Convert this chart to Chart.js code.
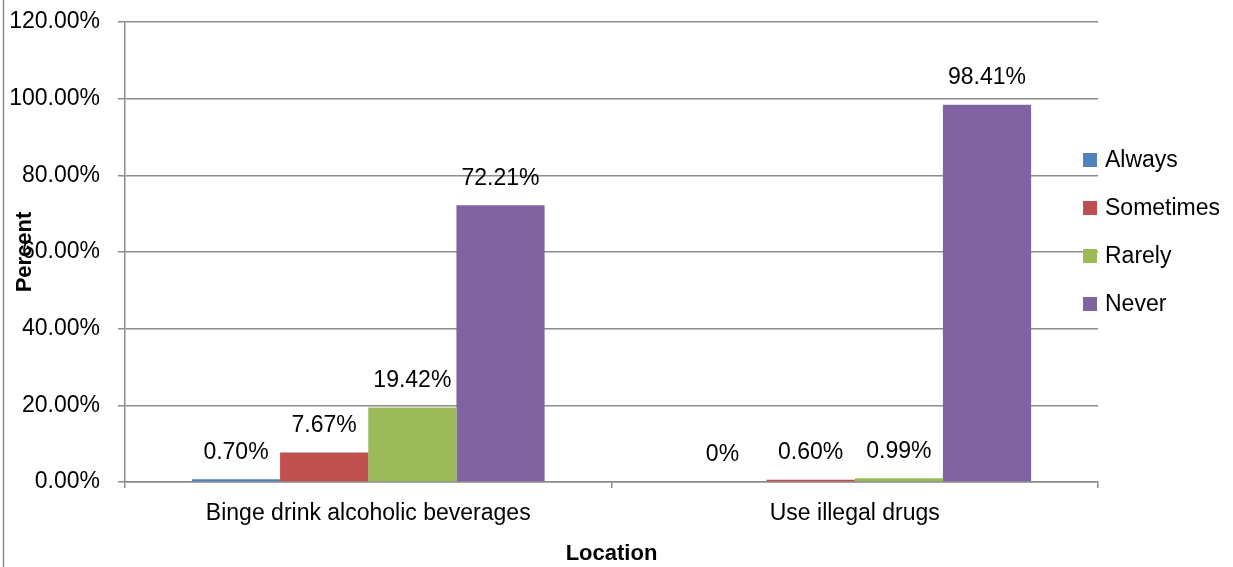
<!DOCTYPE html>
<html lang="en">
<head>
<meta charset="UTF-8">
<title>Percent by Location</title>
<script src="https://cdn.jsdelivr.net/npm/chart.js"></script>
<style>
  body { margin: 0; background: #fff; }
  canvas { display: block; }
</style>
</head>
<body>
<canvas id="chart" width="1233" height="567"></canvas>
<script>
// data
const categories = ['Binge drink alcoholic beverages', 'Use illegal drugs'];
const seriesNames = ['Always', 'Sometimes', 'Rarely', 'Never'];
const always = [0.70, 0];
const sometimes = [7.67, 0.60];
const rarely = [19.42, 0.99];
const never = [72.21, 98.41];
const yTicks = [0, 20, 40, 60, 80, 100, 120];

const colors = ['#4F81BD', '#C0504D', '#9BBB59', '#8064A2'];
const FONT = '"Liberation Sans", Arial, sans-serif';
const GRID = '#8c8c8c';

function pct(v) {
    return v === 0 ? '0%' : v.toFixed(2) + '%';
}

// left frame line
const frame = {
    id: 'frame',
    beforeDraw(chart) {
        const ctx = chart.ctx;
        ctx.save();
        ctx.strokeStyle = '#8a8a8a';
        ctx.lineWidth = 1.5;
        ctx.beginPath();
        ctx.moveTo(3.5, 0);
        ctx.lineTo(3.5, chart.height);
        ctx.stroke();
        ctx.restore();
    }
};

// value labels above bars
const barLabels = {
    id: 'barLabels',
    afterDatasetsDraw(chart) {
        const ctx = chart.ctx;
        ctx.save();
        ctx.font = '23px ' + FONT;
        ctx.fillStyle = '#000';
        ctx.textAlign = 'center';
        ctx.textBaseline = 'middle';
        chart.data.datasets.forEach((ds, i) => {
            chart.getDatasetMeta(i).data.forEach((bar, j) => {
                ctx.fillText(pct(ds.data[j]), bar.x, bar.y - 27);
            });
        });
        ctx.restore();
    }
};

// y title sits over the tick labels, so draw it by hand
const yTitle = {
    id: 'yTitle',
    afterDraw(chart) {
        const ctx = chart.ctx;
        const a = chart.chartArea;
        ctx.save();
        ctx.translate(25, (a.top + a.bottom) / 2);
        ctx.rotate(-Math.PI / 2);
        ctx.font = 'bold 22px ' + FONT;
        ctx.fillStyle = '#000';
        ctx.textAlign = 'center';
        ctx.textBaseline = 'middle';
        ctx.fillText('Percent', 0, 0);
        ctx.restore();
    }
};

// legend on the right
const sideLegend = {
    id: 'sideLegend',
    afterDraw(chart) {
        const ctx = chart.ctx;
        const x = chart.chartArea.right - 15;
        ctx.save();
        ctx.font = '23px ' + FONT;
        ctx.textBaseline = 'middle';
        chart.data.datasets.forEach((ds, i) => {
            const y = 160 + i * 48;
            ctx.fillStyle = ds.backgroundColor;
            ctx.fillRect(x, y - 7, 14, 14);
            ctx.fillStyle = '#000';
            ctx.fillText(ds.label, x + 22, y + 1);
        });
        ctx.restore();
    }
};

const seriesData = [always, sometimes, rarely, never];

new Chart(document.getElementById('chart'), {
    type: 'bar',
    data: {
        labels: categories,
        datasets: seriesNames.map((name, i) => ({
            label: name,
            data: seriesData[i],
            backgroundColor: colors[i],
            categoryPercentage: 0.725,
            barPercentage: 1.0
        }))
    },
    options: {
        responsive: false,
        animation: false,
        layout: { padding: { top: 22, right: 135, left: 0, bottom: 0 } },
        plugins: {
            legend: { display: false },
            tooltip: { enabled: false }
        },
        scales: {
            x: {
                grid: {
                    drawOnChartArea: false,
                    drawTicks: true,
                    tickLength: 6,
                    color: GRID,
                    lineWidth: 1.5
                },
                border: { color: GRID, width: 1.5 },
                ticks: {
                    color: '#000',
                    font: { family: FONT, size: 23 },
                    padding: 12,
                    maxRotation: 0
                },
                title: {
                    display: true,
                    text: 'Location',
                    color: '#000',
                    font: { family: FONT, size: 22, weight: 'bold' },
                    padding: { top: 4, bottom: 0 }
                },
                afterFit(scale) {
                    scale.height = 85;
                    scale.paddingLeft = 0;
                    scale.paddingRight = 0;
                }
            },
            y: {
                min: 0,
                max: 120,
                afterBuildTicks(scale) {
                    scale.ticks = yTicks.map(v => ({ value: v }));
                },
                grid: {
                    color: GRID,
                    lineWidth: 1.5,
                    tickLength: 7
                },
                border: { color: GRID, width: 1.5 },
                ticks: {
                    color: '#000',
                    font: { family: FONT, size: 23 },
                    padding: 18,
                    callback: v => v.toFixed(2) + '%'
                },
                afterFit(scale) {
                    scale.width = 125;
                    scale.paddingTop = 0;
                    scale.paddingBottom = 0;
                }
            }
        }
    },
    plugins: [frame, barLabels, yTitle, sideLegend]
});
</script>
</body>
</html>
